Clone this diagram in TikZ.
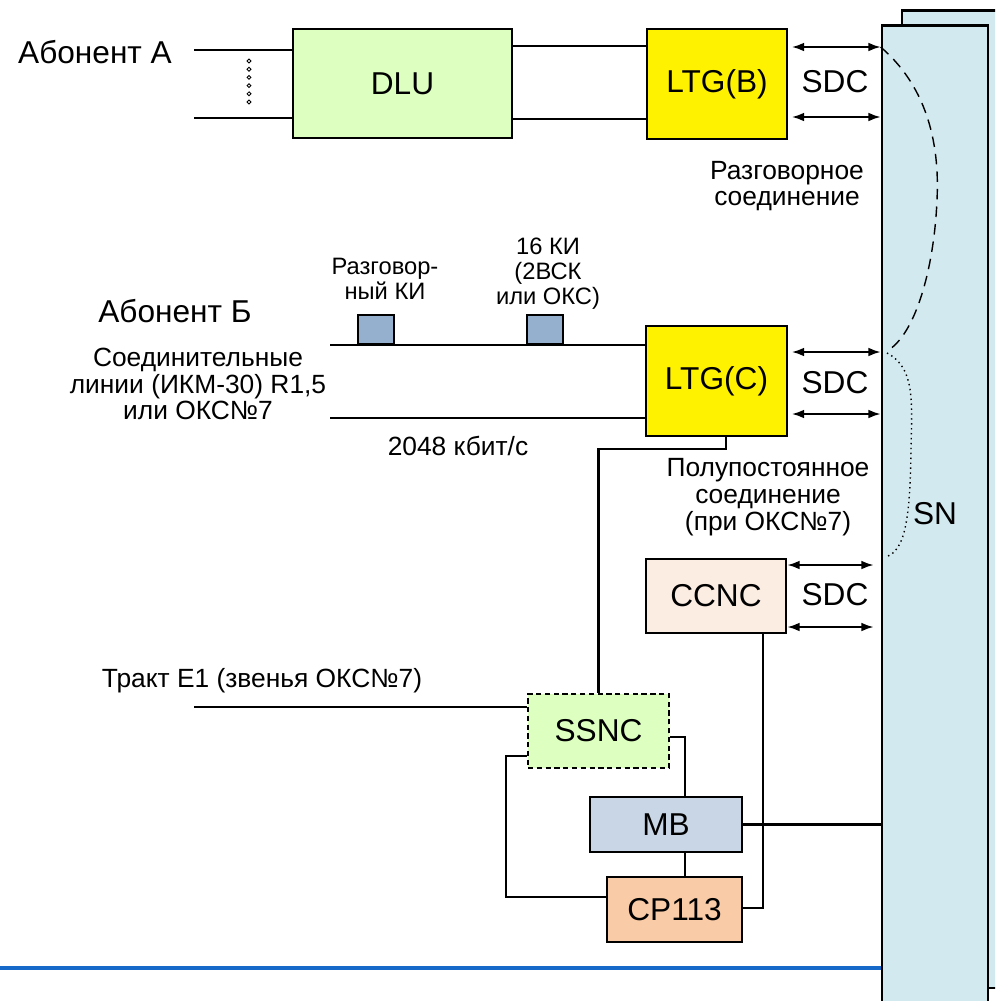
\documentclass[tikz,border=0pt]{standalone}
\usepackage{fontspec}
\setmainfont{Liberation Sans}
\usetikzlibrary{arrows.meta, calc}
\definecolor{dlugreen}{HTML}{DDFFC0}
\definecolor{snblue}{HTML}{D2E9EF}
\definecolor{ccncpeach}{HTML}{FCEDE3}
\definecolor{mbblue}{HTML}{C9D6E5}
\definecolor{cporange}{HTML}{F9CBA7}
\definecolor{kiblue}{HTML}{95AFCF}
\definecolor{barblue}{HTML}{1668C9}

\begin{document}
\begin{tikzpicture}[x=0.02cm, y=-0.02cm,
    blk/.style={draw, line width=1.6pt, fill=#1, inner sep=0pt,
                font=\fontsize{18}{21}\selectfont},
    blk/.default={white},
    sdc/.style={{Latex[length=7pt,width=5pt]}-{Latex[length=7pt,width=5pt]}, line width=1pt},
    conn/.style={line width=0.8pt},
    bold/.style={line width=1.4pt},
    lbl/.style={font=\fontsize{15}{15.3}\selectfont, align=center},
    small/.style={font=\fontsize{13.5}{14.2}\selectfont, align=center},
    big/.style={font=\fontsize{18}{21}\selectfont}
]
\useasboundingbox (0,0) rectangle (995,1001);
\clip (0,0) rectangle (995,1001);

% ---- SN (two stacked boards) ----
\node[blk=snblue, minimum width=2.16cm, minimum height=19.56cm] (snb) at (956,499) {};
\node[blk=snblue, minimum width=2.12cm, minimum height=19.56cm] (sn)  at (935,514) {SN};

% ---- Subscriber A ----
\node[big] (abA) at (95,52) {Абонент А};
\node[blk=dlugreen, minimum width=4.38cm, minimum height=2.18cm] (dlu)  at (402.5,83.5) {DLU};
\node[blk=yellow,   minimum width=2.8cm,  minimum height=2.2cm]  (ltgb) at (717,84)     {LTG(B)};
\coordinate (a1) at (194,50);
\coordinate (a2) at (194,118);
\draw[conn] (a1) -- (dlu.west |- a1);
\draw[conn] (a2) -- (dlu.west |- a2);
\foreach \k in {0,...,5}
  \draw[line width=0.5pt] (249,{61+8.2*\k}) circle[radius=1.1pt];
\draw[conn] (dlu.east |- 0,46)  -- (ltgb.west |- 0,46);
\draw[bold] (dlu.east |- 0,119) -- (ltgb.west |- 0,119);
% SDC
\draw[sdc] ([xshift=2pt]ltgb.east |- 0,47)  -- (sn.west |- 0,47);
\draw[sdc] ([xshift=2pt]ltgb.east |- 0,117) -- (sn.west |- 0,117);
\node[big] (sdcb) at (835,82) {SDC};
\node[lbl] (talk) at (787,186) {Разговорное\\соединение};

% ---- Subscriber B ----
\node[big] (abB) at (175,311) {Абонент Б};
\node[small] (kitxt) at (385,279) {Разговор-\\ный КИ};
\node[small] (ki16) at (548,274) {16 КИ\\(2ВСК\\или ОКС)};
\node[lbl] (trunk) at (198,384) {Соединительные\\линии (ИКМ-30) R1,5\\или ОКС№7};
\node[blk=yellow, minimum width=2.82cm, minimum height=2.2cm] (ltgc) at (716.5,381) {LTG(C)};
\coordinate (b1) at (330,345);
\coordinate (b2) at (330,418);
\draw[conn] (b1) -- (ltgc.west |- b1);
\draw[conn] (b2) -- (ltgc.west |- b2);
\node[draw, line width=1pt, fill=kiblue, minimum width=0.72cm, minimum height=0.58cm,
      inner sep=0pt, anchor=south] (sq1) at (376,345) {};
\node[draw, line width=1pt, fill=kiblue, minimum width=0.72cm, minimum height=0.58cm,
      inner sep=0pt, anchor=south] (sq2) at (545,345) {};
\node[lbl] (rate) at (458,446) {2048 кбит/с};
\draw[sdc] ([xshift=2pt]ltgc.east |- 0,352) -- (sn.west |- 0,352);
\draw[sdc] ([xshift=2pt]ltgc.east |- 0,414) -- (sn.west |- 0,414);
\node[big] (sdcc) at (835,383) {SDC};
\node[lbl] (semi) at (768,497) {Полупостоянное\\соединение\\(при ОКС№7)};

% talk path / semi-permanent path inside SN
\coordinate (d0) at (sn.west |- 0,47);
\coordinate (d1) at (887,351);
\coordinate (d2) at (887,353);
\coordinate (d3) at (885,557);
\draw[dashed, line width=0.8pt, dash pattern=on 6pt off 4pt]
  (d0) .. controls (925,85) and (940,140) .. (937,200)
       .. controls (934,270) and (915,335) .. (d1);
\draw[dotted, line width=0.8pt]
  (d2) .. controls (915,368) and (912,400) .. (911,450)
       .. controls (910,520) and (905,552) .. (d3);

% ---- CCNC ----
\node[blk=ccncpeach, minimum width=2.8cm, minimum height=1.48cm] (ccnc) at (716,596) {CCNC};
\draw[sdc, shorten >=4pt] (ccnc.east |- 0,565) -- (sn.west |- 0,565);
\draw[sdc, shorten >=4pt] (ccnc.east |- 0,627) -- (sn.west |- 0,627);
\node[big] (sdcn) at (835,595) {SDC};

% ---- Signalling: SSNC, MB, CP113 ----
\node[lbl] (e1) at (262,681) {Тракт Е1 (звенья ОКС№7)};
\node[blk=dlugreen, dashed, dash pattern=on 3pt off 2pt,
      minimum width=2.82cm, minimum height=1.48cm] (ssnc) at (598.5,731) {SSNC};
\node[blk=mbblue,   minimum width=3.04cm, minimum height=1.1cm] (mb) at (666,824.5) {MB};
\node[blk=cporange, minimum width=2.7cm,  minimum height=1.3cm] (cp) at (674.5,909.5) {CP113};
\coordinate (e1s) at (194,707);
\draw[conn] (e1s) -- (ssnc.west |- e1s);
\draw[bold] (ltgc.south -| 726,0) -- (726,449) -| (ssnc.north);
\draw[bold] (ssnc.east |- 0,737) -| (mb.north -| 685,0);
\draw[conn] (ssnc.west |- 0,756) -| (506,897) -- (cp.west |- 0,897);
\draw[bold] (mb.south -| 685,0) -- (cp.north -| 685,0);
\draw[bold] (mb.east) -- (sn.west |- mb.east);
\draw[bold] (ccnc.south -| 763,0) |- (cp.east |- 0,908);

% ---- bottom bar ----
\coordinate (bar) at (0,968);
\draw[barblue, line width=2.4pt] (bar) -- (sn.west |- bar);
\end{tikzpicture}
\end{document}
